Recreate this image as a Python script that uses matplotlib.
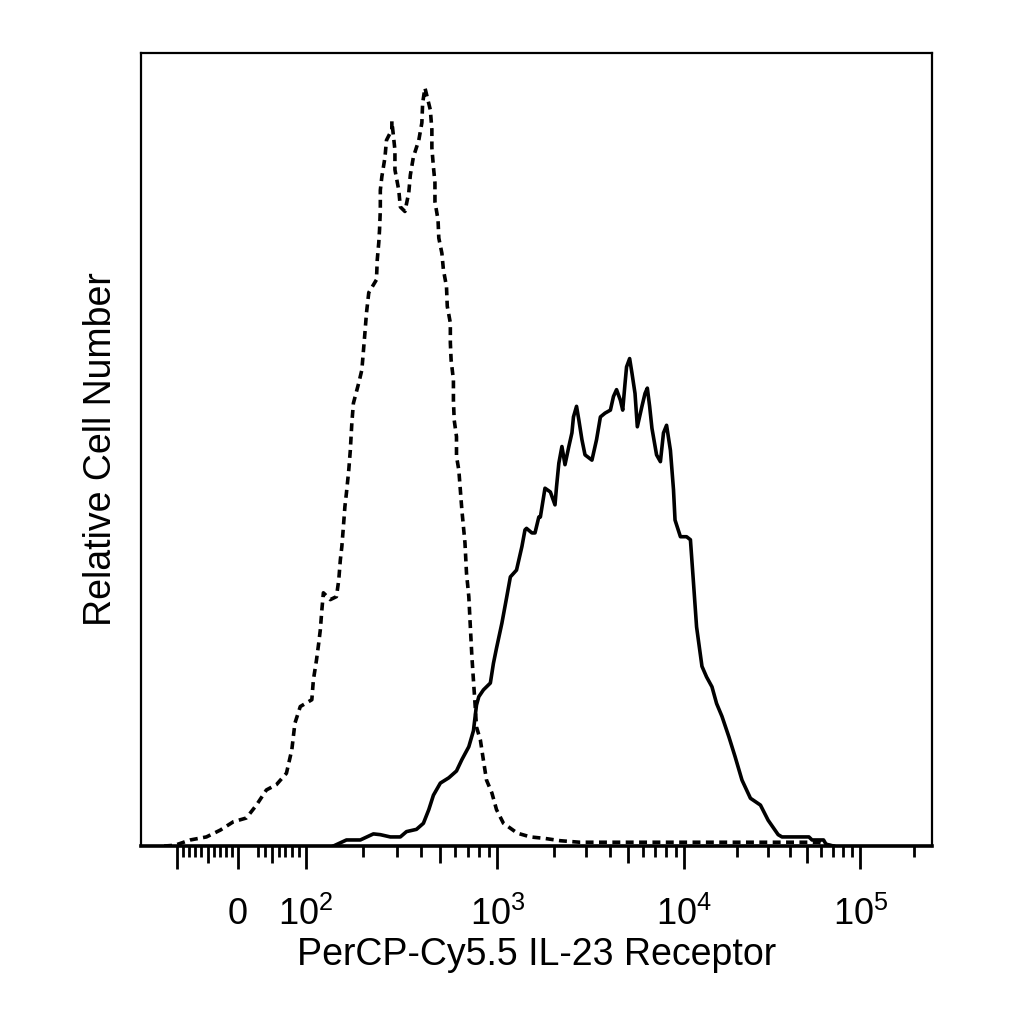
import numpy as np
import matplotlib
matplotlib.use('Agg')
import matplotlib.pyplot as plt

plt.rcParams['font.family'] = ['Liberation Sans', 'DejaVu Sans']
plt.rcParams['mathtext.fontset'] = 'custom'
plt.rcParams['mathtext.rm'] = 'Liberation Sans'

# histogram data, x in display channels (biexponential scale), y in % of max
isotype_ch = [30, 44, 64, 85, 103, 120, 137, 150, 163, 176, 189, 196, 200, 207, 222, 224,
              228, 231, 233, 235, 237, 246, 254, 257, 259, 261, 263, 265, 267, 270, 272,
              274, 276, 283, 287, 291, 293, 296, 306, 307, 309, 310, 311, 311, 313, 317,
              319, 326, 326, 330, 330, 335, 337, 343, 348, 350, 354, 361, 365, 366, 369,
              376, 378, 378, 380, 382, 382, 386, 387, 391, 393, 397, 398, 402, 402, 403,
              406, 406, 407, 410, 410, 413, 417, 421, 423, 426, 428, 430, 432, 434, 436,
              441, 445, 449, 456, 462, 471, 489, 506, 525, 545, 570, 880, 900]
isotype_y = [0.0, 0.1, 0.8, 1.2, 2.1, 3.2, 3.7, 5.4, 7.4, 8.1, 9.6, 12.7, 16.2, 18.4, 19.3, 21.9,
             24.5, 26.8, 28.5, 31.1, 33.4, 32.5, 32.9, 35.1, 37.7, 39.5, 42.1, 44.8, 46.6, 49.6, 52.2,
             55.8, 58.4, 61.1, 62.8, 67.7, 70.3, 73.0, 74.7, 77.3, 79.6, 81.3, 83.9, 86.5, 88.3, 90.8,
             93.1, 94.5, 95.6, 91.8, 89.2, 86.5, 84.3, 83.7, 86.2, 88.5, 90.9, 93.1, 95.4, 98.0, 100.0,
             97.1, 94.5, 92.1, 89.6, 87.5, 85.0, 82.6, 80.2, 78.2, 76.0, 73.8, 71.2, 69.0, 66.4, 64.1,
             61.5, 58.8, 56.2, 54.0, 51.4, 49.6, 44.3, 40.0, 36.0, 32.9, 28.9, 25.0, 21.9, 18.9, 15.7,
             14.0, 11.3, 8.7, 7.0, 4.8, 3.0, 1.7, 1.2, 1.0, 0.7, 0.5, 0.5, 0.0]

stained_ch = [250, 267, 285, 302, 311, 324, 337, 345, 358, 367, 374, 380, 389, 400, 410, 417,
              426, 432, 436, 439, 445, 454, 458, 462, 469, 475, 480, 488, 495, 499, 501,
              508, 512, 517, 519, 525, 532, 538, 540, 543, 547, 551, 556, 560, 562, 566,
              569, 573, 577, 586, 592, 597, 603, 610, 614, 618, 623, 626, 629, 631, 635,
              638, 642, 645, 651, 655, 658, 661, 664, 670, 675, 679, 683, 688, 692, 694,
              701, 709, 714, 718, 722, 729, 735, 742, 748, 755, 764, 772, 781, 792, 805,
              815, 828, 833, 868, 872, 887, 891, 900]
stained_y = [0.0, 0.8, 0.8, 1.6, 1.5, 1.2, 1.2, 1.9, 2.2, 3.0, 4.8, 6.7, 8.3, 9.0, 9.9, 11.4,
             13.1, 15.2, 18.6, 19.7, 20.6, 21.5, 24.1, 26.1, 29.4, 32.7, 35.5, 36.4, 39.5, 41.7, 41.9,
             41.3, 41.3, 43.4, 43.4, 47.2, 46.7, 45.0, 47.4, 50.5, 52.7, 50.3, 52.7, 54.5, 56.6, 58.0,
             56.2, 53.6, 51.6, 50.9, 53.6, 56.6, 57.1, 57.5, 59.3, 60.2, 58.8, 57.5, 61.0, 63.2, 64.3,
             62.4, 59.7, 55.3, 58.0, 59.7, 60.4, 58.0, 55.1, 51.6, 50.7, 54.5, 55.5, 52.2, 47.0, 43.0,
             40.8, 40.8, 40.4, 34.7, 28.9, 23.7, 22.3, 21.0, 18.8, 17.1, 14.4, 11.8, 8.7, 6.3, 5.4,
             3.4, 1.5, 1.2, 1.2, 0.8, 0.8, 0.1, 0.0]

# axis ticks (fluorescence values) and labels
major_values = [-100, 0, 100, 1000, 10000, 100000]
major_labels = ['', '0', r'$\mathregular{10^{2}}$', r'$\mathregular{10^{3}}$',
                r'$\mathregular{10^{4}}$', r'$\mathregular{10^{5}}$']
mid_values = [-50, 50, 500, 5000, 50000]
minor_values = ([-k * 10 for k in (1, 2, 3, 4, 6, 7, 8, 9)] + [k * 10 for k in (3, 4, 6, 7, 8, 9)]
                + [k * 10 ** d for d in (2, 3, 4) for k in (2, 3, 4, 6, 7, 8, 9)] + [200000])

# biexponential display: channel of -100, 0 and each decade
NEG_CH = 47
ZERO_CH = 126
DECADES = [2, 3, 4, 5]
DECADE_CH = [214, 463, 706, 935]


def to_channel(v):
    v = np.asarray(v, float)
    lin_neg = ZERO_CH + v * (ZERO_CH - NEG_CH) / 100
    lin_pos = ZERO_CH + v * (DECADE_CH[0] - ZERO_CH) / 100
    lg = np.log10(np.clip(v, 100, None))
    logpart = np.where(lg > DECADES[-1],
                       DECADE_CH[-1] + (lg - DECADES[-1]) * (DECADE_CH[-1] - DECADE_CH[-2]),
                       np.interp(lg, DECADES, DECADE_CH))
    return np.where(v < 0, lin_neg, np.where(v <= 100, lin_pos, logpart))


fig = plt.figure(figsize=(10.24, 10.24), dpi=100)
ax = fig.add_axes([0.1377, 0.1738, 0.7725, 0.7744])

ax.plot(isotype_ch, isotype_y, color='black', lw=2.6, linestyle=(0, (2.2, 1.5)))
ax.plot(stained_ch, stained_y, color='black', lw=2.6)

ax.set_xlim(0, 1028)
ax.set_ylim(0, 104.6)
ax.set_yticks([])

for side in ['left', 'right', 'top']:
    ax.spines[side].set_linewidth(1.6)
ax.spines['bottom'].set_linewidth(2.6)

ax.set_xticks(to_channel(major_values), major_labels)
ax.set_xticks(to_channel(minor_values), minor=True)
ax.tick_params(axis='x', which='major', length=16.5, width=2.0, pad=20, labelsize=26)
ax.tick_params(axis='x', which='minor', length=8, width=2.0)

sec = ax.secondary_xaxis('bottom')
sec.spines['bottom'].set_visible(False)
sec.set_xticks(to_channel(mid_values))
sec.tick_params(length=12, width=2.0, labelbottom=False)

ax.set_xlabel('PerCP-Cy5.5 IL-23 Receptor', fontsize=27, labelpad=3)
ax.set_ylabel('Relative Cell Number', fontsize=27, labelpad=16)

fig.savefig('out.png', dpi=100, facecolor='white')
